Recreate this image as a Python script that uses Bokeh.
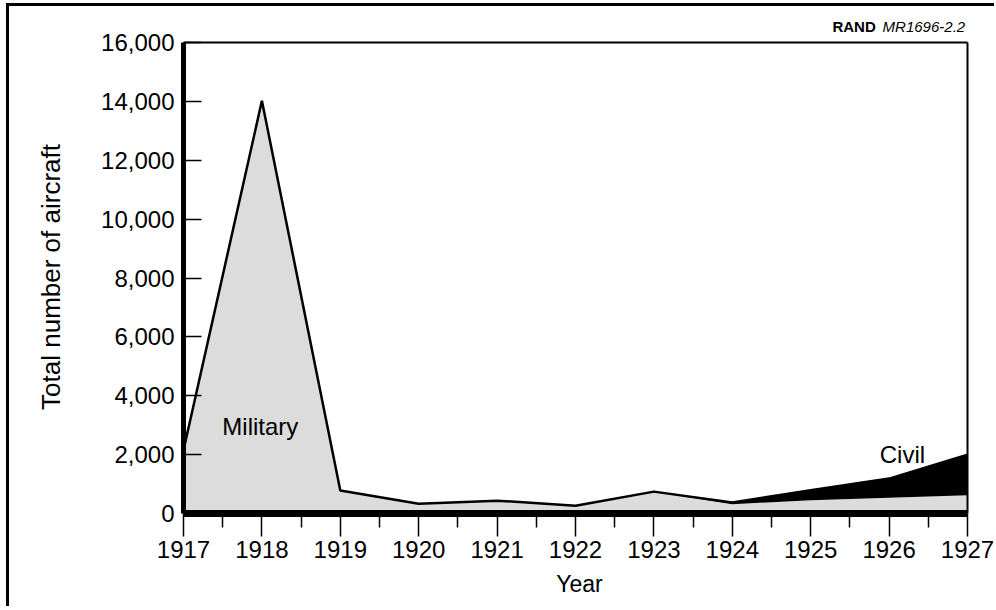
from bokeh.plotting import figure
from bokeh.layouts import column
from bokeh.models import FixedTicker, NumeralTickFormatter, Label
from bokeh.embed import file_html
from bokeh.resources import INLINE

years = [1917, 1918, 1919, 1920, 1921, 1922, 1923, 1924, 1925, 1926, 1927]
military = [2148, 14020, 780, 328, 437, 263, 743, 317, 447, 532, 621]
civil = [0, 0, 0, 0, 0, 0, 0, 60, 342, 654, 1374]
y_ticks = [0, 2000, 4000, 6000, 8000, 10000, 12000, 14000, 16000]
x_minor = [1917.5, 1918.5, 1919.5, 1920.5, 1921.5, 1922.5, 1923.5, 1924.5, 1925.5, 1926.5]
y_max = 16000

total = [m + c for m, c in zip(military, civil)]
FONT = "Liberation Sans"
x0, x1 = years[0], years[-1]

p = figure(width=985, height=574, output_backend="svg", toolbar_location=None,
           x_range=(x0, x1 + 0.102), y_range=(0, y_max * 473 / 471),
           min_border_left=174, min_border_right=19, min_border_top=8, min_border_bottom=93)
p.grid.visible = False
p.background_fill_color = "white"
p.border_fill_color = "white"
p.outline_line_color = None

# header strip holding the report id (shares the year axis of the chart)
h = figure(width=985, height=26, output_backend="svg", toolbar_location=None,
           x_range=p.x_range, y_range=(0, 26), x_axis_type=None, y_axis_type=None,
           min_border=0)
h.grid.visible = False
h.outline_line_color = None
h.add_layout(Label(x=1926.97, y=6.5, text="MR1696-2.2", text_align="right", text_baseline="middle",
                   text_font=FONT, text_font_size="15px", text_font_style="italic", text_color="black"))
h.add_layout(Label(x=1925.83, y=6.5, text="RAND", text_align="right", text_baseline="middle",
                   text_font=FONT, text_font_size="15px", text_font_style="bold", text_color="black"))

p.varea(x=years, y1=[0] * len(years), y2=military, fill_color="#dcdcdc")
p.varea(x=years, y1=military, y2=total, fill_color="black")
p.line(x=years, y=total, line_color="black", line_width=2.5)

# plot box: top and right edges
p.segment(x0=[x0, x1], y0=[y_max, 0], x1=[x1, x1], y1=[y_max, y_max],
          line_color="black", line_width=2)

xa = p.xaxis[0]
xa.ticker = FixedTicker(ticks=years, minor_ticks=x_minor)
xa.bounds = (x0, x1)
xa.axis_line_width = 7
xa.axis_line_color = "black"
xa.major_tick_in = 0
xa.major_tick_out = 23
xa.minor_tick_in = 0
xa.minor_tick_out = 14
xa.major_tick_line_width = 1.5
xa.minor_tick_line_width = 1.5
xa.major_label_standoff = 4
xa.major_label_text_font = FONT
xa.major_label_text_font_size = "24px"
xa.major_label_text_color = "black"
xa.axis_label = "Year"
xa.axis_label_text_font = FONT
xa.axis_label_text_font_size = "23px"
xa.axis_label_text_font_style = "normal"
xa.axis_label_text_color = "black"
xa.axis_label_standoff = 10

ya = p.yaxis[0]
ya.ticker = FixedTicker(ticks=y_ticks)
ya.bounds = (0, y_max)
ya.formatter = NumeralTickFormatter(format="0,0")
ya.axis_line_width = 5
ya.axis_line_color = "black"
ya.major_tick_in = 18
ya.major_tick_out = 0
ya.minor_tick_in = 0
ya.minor_tick_out = 0
ya.major_tick_line_width = 1.5
ya.major_label_standoff = 9
ya.major_label_text_font = FONT
ya.major_label_text_font_size = "24px"
ya.major_label_text_color = "black"
ya.axis_label = "Total number of aircraft"
ya.axis_label_text_font = FONT
ya.axis_label_text_font_size = "26px"
ya.axis_label_text_font_style = "normal"
ya.axis_label_text_color = "black"
ya.axis_label_standoff = 32

p.add_layout(Label(x=1917.98, y=2962, text="Military", text_align="center", text_baseline="middle",
                   text_font=FONT, text_font_size="24px", text_color="black"))
p.add_layout(Label(x=1926.17, y=2009, text="Civil", text_align="center", text_baseline="middle",
                   text_font=FONT, text_font_size="24px", text_color="black"))

layout = column(h, p, spacing=0)
layout.styles = {"border-top": "3px solid black", "border-left": "3px solid black",
                 "margin-left": "6px", "margin-top": "3px"}

open("out.html", "w").write(file_html(layout, INLINE))
